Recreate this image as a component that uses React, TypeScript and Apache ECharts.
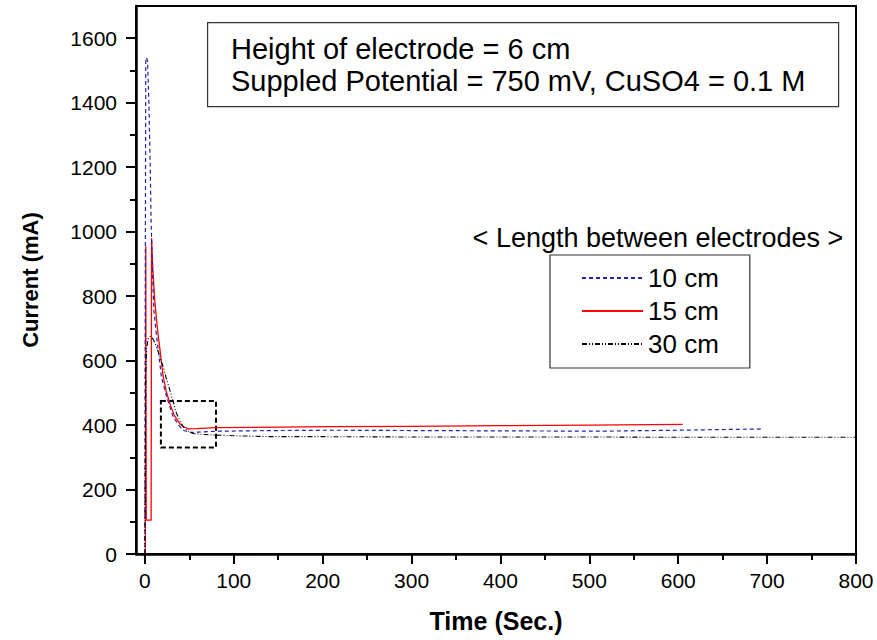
import React, { useEffect, useRef } from "react";
import * as echarts from "echarts";

// ---- data ----
const seriesNames = ["10 cm", "15 cm", "30 cm"];

const time10 = [0, 0.3, 1, 1.5, 3, 4.5, 6, 7, 8.5, 10, 12.5, 15, 18.6, 24.4, 31.8, 38, 43, 50.7, 60, 80.8, 150, 208, 300, 400, 512, 600, 696];
const current10 = [0, 650, 1530, 1540, 1530, 1400, 1200, 1030, 880, 760, 690, 633, 550, 488, 426, 400, 384, 377, 378, 381, 383, 384, 383, 382, 381, 384, 388];

const time15 = [0.5, 1, 1.5, 7, 7.5, 9, 11, 14, 17, 20.6, 24, 28, 33, 39, 44, 49, 58, 80, 120, 208, 300, 400, 500, 605];
const current15 = [0, 955, 105, 105, 980, 880, 790, 700, 633, 550, 505, 468, 430, 405, 394, 388, 389, 392, 393, 395, 396, 398, 400, 402];

const time30 = [0, 1, 2, 4, 6, 9, 12, 15, 18, 20.6, 24, 28, 32, 35.6, 40, 43, 48, 54, 65, 77, 100, 141, 200, 300, 400, 500, 600, 700, 800];
const current30 = [0, 560, 640, 670, 675, 668, 650, 628, 600, 581, 545, 509, 470, 436, 410, 395, 383, 374, 371, 369, 367, 364, 364, 363, 363, 363, 362, 362, 362];

// axis ranges and tick steps
const X_RANGE = [-10, 800];
const Y_RANGE = [0, 1700];
const X_TICK_RANGE = [0, 800];
const X_TICK_STEP = 100;
const Y_TICK_RANGE = [0, 1600];
const Y_TICK_STEP = 200;

// dashed zoom box: [tStart, tEnd, currentLow, currentHigh]
const zoomBox = [18, 80, 330, 475];

const annotationLines = ["Height of electrode = 6 cm", "Suppled Potential = 750 mV, CuSO4 = 0.1 M"];
const legendTitle = "< Length between electrodes >";

const FONT = "'Liberation Sans', Arial, sans-serif";

const zip = (t: number[], v: number[]) => t.map((x, i) => [x, v[i]]);
const plain = (v: number) => String(v);

// layout of the main plot frame (pixels)
const G_LEFT = 136;
const G_RIGHT = 21;
const G_TOP = 6;
const G_BOTTOM = 86;
const MAJOR_LEN = 10;
const MINOR_LEN = 6;

export default function App() {
  const ref = useRef<HTMLDivElement>(null);
  useEffect(() => {
    if (!ref.current) return;
    const chart = echarts.init(ref.current, undefined, { renderer: "svg" });
    const W = 877, H = 640;
    const pxX = (W - G_LEFT - G_RIGHT) / (X_RANGE[1] - X_RANGE[0]);
    const pxY = (H - G_TOP - G_BOTTOM) / (Y_RANGE[1] - Y_RANGE[0]);
    const tLeft = G_LEFT + (X_TICK_RANGE[0] - X_RANGE[0]) * pxX;
    const tRight = G_RIGHT + (X_RANGE[1] - X_TICK_RANGE[1]) * pxX;
    const tTop = G_TOP + (Y_RANGE[1] - Y_TICK_RANGE[1]) * pxY;
    const tBottom = G_BOTTOM + (Y_TICK_RANGE[0] - Y_RANGE[0]) * pxY;
    const axisBottomY = H - tBottom;

    const tickLine = { show: true, lineStyle: { color: "#000", width: 2 } };
    const hidden = { type: "value", show: false };
    const bare = {
      type: "value",
      axisLine: { show: false, onZero: false },
      axisTick: { show: false },
      axisLabel: { show: false },
    };

    chart.setOption({
      animation: false,
      backgroundColor: "#fff",
      textStyle: { fontFamily: FONT },
      grid: [
        {
          left: G_LEFT,
          right: G_RIGHT,
          top: G_TOP,
          bottom: G_BOTTOM,
          show: true,
          borderColor: "#000",
          borderWidth: 2,
          backgroundColor: "transparent",
          outerBoundsMode: "none",
        },
        // labels
        { left: tLeft, right: tRight, top: tTop, bottom: tBottom, show: false, outerBoundsMode: "none" },
        // x major / minor tick strips below the axis
        { left: tLeft, right: tRight, top: axisBottomY, height: MAJOR_LEN, show: false, outerBoundsMode: "none" },
        { left: tLeft, right: tRight, top: axisBottomY, height: MINOR_LEN, show: false, outerBoundsMode: "none" },
        // y major / minor tick strips left of the axis
        { left: G_LEFT - MAJOR_LEN, width: MAJOR_LEN, top: tTop, bottom: tBottom, show: false, outerBoundsMode: "none" },
        { left: G_LEFT - MINOR_LEN, width: MINOR_LEN, top: tTop, bottom: tBottom, show: false, outerBoundsMode: "none" },
      ],
      xAxis: [
        {
          type: "value",
          gridIndex: 0,
          position: "bottom",
          min: X_RANGE[0],
          max: X_RANGE[1],
          splitLine: { show: false },
          name: "Time (Sec.)",
          nameLocation: "middle",
          nameGap: 54,
          nameTextStyle: { fontSize: 25, fontWeight: "bold", color: "#000", fontFamily: FONT },
          axisLine: { show: true, onZero: false, lineStyle: { color: "#000", width: 2.5 } },
          axisTick: { show: false },
          axisLabel: { show: false },
        },
        {
          ...bare,
          gridIndex: 1,
          position: "bottom",
          min: X_TICK_RANGE[0],
          max: X_TICK_RANGE[1],
          interval: X_TICK_STEP,
          splitLine: { show: false },
          axisLabel: { show: true, formatter: plain, fontSize: 21, color: "#000", margin: 16, fontFamily: FONT },
        },
        { ...bare, gridIndex: 2, min: X_TICK_RANGE[0], max: X_TICK_RANGE[1], interval: X_TICK_STEP, splitLine: tickLine },
        { ...bare, gridIndex: 3, min: X_TICK_RANGE[0], max: X_TICK_RANGE[1], interval: X_TICK_STEP / 2, splitLine: tickLine },
        { ...hidden, gridIndex: 4, min: 0, max: 1 },
        { ...hidden, gridIndex: 5, min: 0, max: 1 },
      ],
      yAxis: [
        {
          type: "value",
          gridIndex: 0,
          position: "left",
          min: Y_RANGE[0],
          max: Y_RANGE[1],
          splitLine: { show: false },
          name: "Current (mA)",
          nameLocation: "middle",
          nameGap: 95,
          nameTextStyle: { fontSize: 22, fontWeight: "bold", color: "#000", fontFamily: FONT },
          axisLine: { show: true, onZero: false, lineStyle: { color: "#000", width: 2.5 } },
          axisTick: { show: false },
          axisLabel: { show: false },
        },
        {
          ...bare,
          gridIndex: 1,
          position: "left",
          offset: tLeft - G_LEFT,
          min: Y_TICK_RANGE[0],
          max: Y_TICK_RANGE[1],
          interval: Y_TICK_STEP,
          splitLine: { show: false },
          axisLabel: { show: true, formatter: plain, fontSize: 21, color: "#000", margin: 19, fontFamily: FONT },
        },
        { ...hidden, gridIndex: 2, min: 0, max: 1 },
        { ...hidden, gridIndex: 3, min: 0, max: 1 },
        { ...bare, gridIndex: 4, min: Y_TICK_RANGE[0], max: Y_TICK_RANGE[1], interval: Y_TICK_STEP, splitLine: tickLine },
        { ...bare, gridIndex: 5, min: Y_TICK_RANGE[0], max: Y_TICK_RANGE[1], interval: Y_TICK_STEP / 2, splitLine: tickLine },
      ],
      legend: {
        orient: "vertical",
        left: 550,
        top: 255,
        data: seriesNames,
        itemWidth: 61,
        itemHeight: 14,
        itemGap: 7,
        itemTextGap: 8,
        padding: [10, 31, 11, 31],
        borderColor: "#333",
        borderWidth: 1.2,
        backgroundColor: "#fff",
        selectedMode: false,
        itemStyle: { opacity: 0 },
        textStyle: { fontSize: 26, lineHeight: 26, color: "#000", fontFamily: FONT },
      },
      series: [
        {
          name: seriesNames[0],
          type: "line",
          xAxisIndex: 0,
          yAxisIndex: 0,
          data: zip(time10, current10),
          showSymbol: false,
          symbol: "none",
          lineStyle: { color: "#2222aa", width: 1.2, type: [4, 3] },
          itemStyle: { color: "#2222aa" },
          z: 3,
        },
        {
          name: seriesNames[1],
          type: "line",
          xAxisIndex: 0,
          yAxisIndex: 0,
          data: zip(time15, current15),
          showSymbol: false,
          symbol: "none",
          lineStyle: { color: "#ff0000", width: 1.3, type: "solid" },
          itemStyle: { color: "#ff0000" },
          z: 2,
        },
        {
          name: seriesNames[2],
          type: "line",
          xAxisIndex: 0,
          yAxisIndex: 0,
          data: zip(time30, current30),
          showSymbol: false,
          symbol: "none",
          lineStyle: { color: "#000", width: 1.1, type: [5, 2, 1, 2, 1, 2] },
          itemStyle: { color: "#000" },
          z: 4,
          markArea: {
            silent: true,
            itemStyle: { color: "transparent", borderColor: "#000", borderWidth: 2, borderType: [5, 3] },
            data: [[{ coord: [zoomBox[0], zoomBox[3]] }, { coord: [zoomBox[1], zoomBox[2]] }]],
          },
        },
      ],
      graphic: [
        {
          type: "rect",
          left: 207,
          top: 22,
          shape: { width: 631, height: 84 },
          style: { fill: "#fff", stroke: "#333", lineWidth: 1.2 },
          z: 10,
        },
        {
          type: "text",
          x: 231,
          y: 49,
          style: { text: annotationLines[0], fontSize: 29, fill: "#000", fontFamily: FONT, verticalAlign: "middle" },
          z: 11,
        },
        {
          type: "text",
          x: 231,
          y: 81,
          style: { text: annotationLines[1], fontSize: 29, fill: "#000", fontFamily: FONT, verticalAlign: "middle" },
          z: 11,
        },
        {
          type: "text",
          x: 658,
          y: 238,
          style: { text: legendTitle, fontSize: 27, fill: "#000", fontFamily: FONT, align: "center", verticalAlign: "middle" },
          z: 11,
        },
      ],
    });
    return () => chart.dispose();
  }, []);
  return <div ref={ref} style={{ position: "fixed", left: 0, top: 0, width: 877, height: 640 }} />;
}
